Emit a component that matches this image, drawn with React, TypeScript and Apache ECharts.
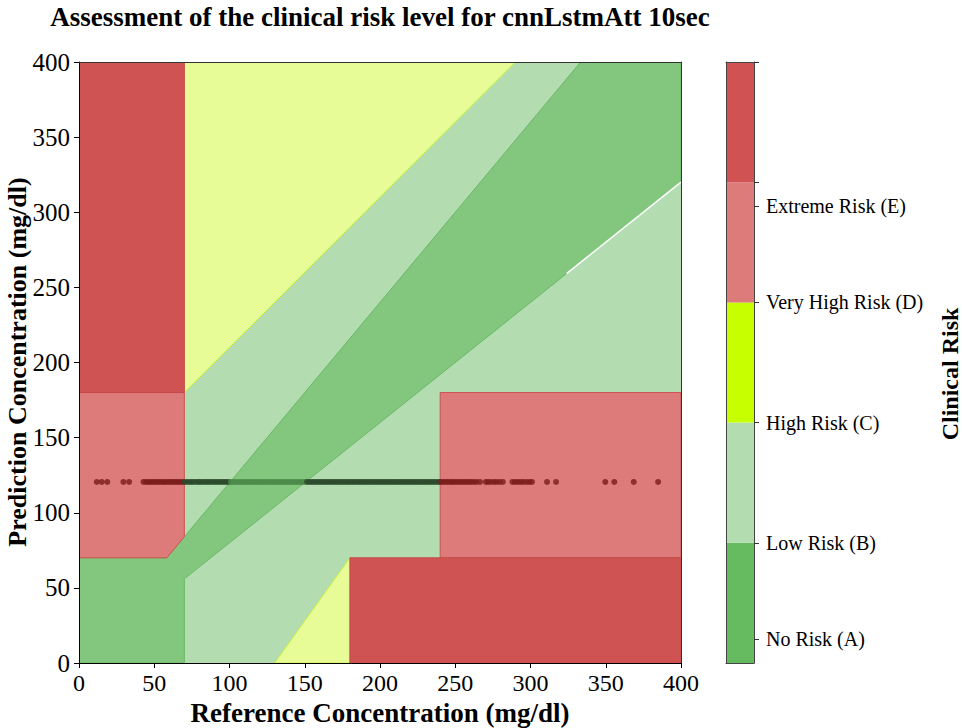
import React, { useEffect, useRef } from "react";
import * as echarts from "echarts";

const FONT = "'Liberation Serif', 'Times New Roman', serif";

const TITLE = "Assessment of the clinical risk level for cnnLstmAtt 10sec";
const X_NAME = "Reference Concentration (mg/dl)";
const Y_NAME = "Prediction Concentration (mg/dl)";
const CB_NAME = "Clinical Risk";

// Clarke-style zone boundaries (reference, prediction)
const zoneB = [[0, 0], [400, 0], [400, 400], [0, 400]];
const zoneA = [[0, 0], [0, 70], [58.33, 70], [70, 84], [333.33, 400], [400, 400], [400, 320], [70, 56], [70, 0]];
const zoneCUpper = [[70, 180], [70, 400], [290, 400]];
const zoneCLower = [[130, 0], [180, 0], [180, 70]];
const zoneDLeft = [[0, 70], [58.33, 70], [70, 84], [70, 180], [0, 180]];
const zoneDRight = [[240, 70], [400, 70], [400, 180], [240, 180]];
const zoneEUpper = [[0, 180], [70, 180], [70, 400], [0, 400]];
const zoneELower = [[180, 0], [400, 0], [400, 70], [180, 70]];
const whiteEdge = [[324, 259.2], [400, 320]];

// reference values of the points (all predictions sit at one level)
const refValues = [
  11.8, 15.1, 18.8, 29.5, 33.3,
  42.8, 44.5, 46.0, 47.3, 48.9, 50.2, 51.8, 53.0, 54.6, 56.1, 57.4, 59.0, 60.3, 61.8, 63.2, 64.5, 66.0, 67.4, 68.8,
  70.3, 71.8, 73.4, 74.7, 76.2, 77.9, 79.3, 80.6, 82.2, 83.7, 85.1, 86.4, 88.0, 89.5, 90.9, 92.3, 93.8, 95.2, 96.6, 98.1,
  99.5, 101.0, 102.4, 103.9, 105.3, 106.8, 108.2, 109.6, 111.1, 112.5, 114.0, 115.4, 116.9, 118.3, 119.7, 121.2, 122.6,
  124.1, 125.5, 127.0, 128.4, 129.8, 131.3, 132.7, 134.2, 135.6, 137.1, 138.5, 139.9, 141.4, 142.8, 144.3, 145.7, 147.2,
  148.6, 150.0, 151.5, 152.9, 154.4, 155.8, 157.3, 158.7, 160.1, 161.6, 163.0, 164.5, 165.9, 167.4, 168.8, 170.2, 171.7,
  173.1, 174.6, 176.0, 177.5, 178.9, 180.3, 181.8, 183.2, 184.7, 186.1, 187.6, 189.0, 190.4, 191.9, 193.3, 194.8, 196.2,
  197.7, 199.1, 200.5, 202.0, 203.4, 204.9, 206.3, 207.8, 209.2, 210.6, 212.1, 213.5, 215.0, 216.4, 217.9, 219.3, 220.7,
  222.2, 223.6, 225.1, 226.5, 228.0, 229.4, 230.8, 232.3, 233.7, 235.2, 236.6, 238.1, 239.5,
  240.6, 242.1, 243.8, 245.2, 246.9, 248.3, 249.7, 251.4, 252.8, 254.5, 256.0, 257.6, 259.1, 260.7,
  262.5, 264.1, 266.4, 270.3, 271.8, 273.6, 275.7, 277.3, 279.4, 281.6,
  288.0, 289.7, 291.6, 293.5, 295.2, 297.4, 299.3, 301.0,
  311.0, 317.0, 349.7, 355.7, 368.6, 384.8,
];
const PRED_LEVEL = 120.5;

const riskLabels = ["No Risk (A)", "Low Risk (B)", "High Risk (C)", "Very High Risk (D)", "Extreme Risk (E)"];
const riskLabelPos = [0.2, 1, 2, 3, 3.8];
const riskTickPos = [0.2, 1, 2, 3, 3.8, 4, 5];
const riskBand = [1, 1, 1, 1, 1];
const riskBarColors = ["#66bb60", "#b3dcb0", "#c8ff00", "#dd7b7b", "#d05252"];

const zones = [
  { points: zoneB, fill: "#b3dcb1", stroke: "none" },
  { points: zoneA, fill: "#83c77f", stroke: "#6ab866" },
  { points: zoneCUpper, fill: "#e7fc97", stroke: "#c8f03c" },
  { points: zoneCLower, fill: "#e7fc97", stroke: "#c8f03c" },
  { points: zoneDLeft, fill: "#dd7b7b", stroke: "#cc5252" },
  { points: zoneDRight, fill: "#dd7b7b", stroke: "#cc5252" },
  { points: zoneEUpper, fill: "#d05353", stroke: "#c84a4a" },
  { points: zoneELower, fill: "#d05353", stroke: "#c84a4a" },
];

const pointColor = (x: number) => {
  if (x < 70 || x >= 240) return "#7a1c1c";
  if (x >= 100 && x <= 150) return "#4b8a48";
  return "#2a482a";
};

const axisTextBase = { fontFamily: FONT, color: "#000" };

export default function App() {
  const ref = useRef<HTMLDivElement>(null);
  useEffect(() => {
    const chart = echarts.init(ref.current!, null, { renderer: "svg" });
    const option: any = {
      animation: false,
      backgroundColor: "#fff",
      graphic: [
        {
          type: "text",
          x: 380,
          y: 3,
          style: {
            text: TITLE,
            textAlign: "center",
            textVerticalAlign: "top",
            fontFamily: FONT,
            fontWeight: "bold",
            fontSize: 27,
            fill: "#000",
          },
        },
        {
          type: "text",
          x: 17,
          y: 362,
          rotation: Math.PI / 2,
          style: {
            text: Y_NAME,
            textAlign: "center",
            textVerticalAlign: "middle",
            fontFamily: FONT,
            fontWeight: "bold",
            fontSize: 26,
            fill: "#000",
          },
        },
        {
          type: "text",
          x: 950,
          y: 374,
          rotation: Math.PI / 2,
          style: {
            text: CB_NAME,
            textAlign: "center",
            textVerticalAlign: "middle",
            fontFamily: FONT,
            fontWeight: "bold",
            fontSize: 24,
            fill: "#000",
          },
        },
      ],
      grid: [
        { left: 79, top: 62, width: 602, height: 601, outerBoundsMode: "none", containLabel: false },
        { left: 726, top: 62, width: 28, height: 601, outerBoundsMode: "none", containLabel: false },
      ],
      xAxis: [
        {
          type: "value",
          gridIndex: 0,
          min: 0,
          max: 400,
          interval: 50,
          z: 10,
          name: X_NAME,
          nameLocation: "middle",
          nameGap: 28,
          nameTextStyle: { ...axisTextBase, fontSize: 27, fontWeight: "bold" },
          axisLine: { show: true, lineStyle: { color: "#000", width: 1 } },
          axisTick: { show: true, length: 5, lineStyle: { color: "#000" } },
          axisLabel: { ...axisTextBase, fontSize: 24, margin: 8 },
          splitLine: { show: false },
        },
        {
          type: "category",
          gridIndex: 1,
          data: ["risk"],
          z: 10,
          axisLine: { show: true, lineStyle: { color: "#444" } },
          axisTick: { show: false },
          axisLabel: { show: false },
        },
        {
          type: "value",
          gridIndex: 0,
          min: 0,
          max: 400,
          position: "top",
          z: 10,
          axisLine: { show: true, onZero: false, lineStyle: { color: "#333", width: 1 } },
          axisTick: { show: false },
          axisLabel: { show: false },
          splitLine: { show: false },
        },
        {
          type: "category",
          gridIndex: 1,
          data: ["risk"],
          position: "top",
          z: 10,
          axisLine: { show: true, onZero: false, lineStyle: { color: "#444" } },
          axisTick: { show: false },
          axisLabel: { show: false },
        },
      ],
      yAxis: [
        {
          type: "value",
          gridIndex: 0,
          min: 0,
          max: 400,
          interval: 50,
          z: 10,
          axisLine: { show: true, lineStyle: { color: "#000", width: 1 } },
          axisTick: { show: true, length: 5, lineStyle: { color: "#000" } },
          axisLabel: { ...axisTextBase, fontSize: 25, margin: 9 },
          splitLine: { show: false },
        },
        {
          type: "value",
          gridIndex: 1,
          min: 0,
          max: 5,
          position: "right",
          z: 10,
          axisLine: { show: true, lineStyle: { color: "#444" } },
          axisTick: { show: true, length: 5, customValues: riskTickPos, lineStyle: { color: "#333" } },
          axisLabel: {
            ...axisTextBase,
            fontSize: 20,
            margin: 12,
            customValues: riskLabelPos,
            formatter: (v: number) => {
              const i = riskLabelPos.indexOf(v);
              return i >= 0 ? riskLabels[i] : "";
            },
          },
          splitLine: { show: false },
        },
        {
          type: "value",
          gridIndex: 0,
          min: 0,
          max: 400,
          position: "right",
          z: 10,
          axisLine: { show: true, onZero: false, lineStyle: { color: "#333", width: 1 } },
          axisTick: { show: false },
          axisLabel: { show: false },
          splitLine: { show: false },
        },
        {
          type: "value",
          gridIndex: 1,
          min: 0,
          max: 5,
          position: "left",
          z: 10,
          axisLine: { show: true, onZero: false, lineStyle: { color: "#444" } },
          axisTick: { show: false },
          axisLabel: { show: false },
          splitLine: { show: false },
        },
      ],
      series: [
        {
          type: "custom",
          xAxisIndex: 0,
          yAxisIndex: 0,
          clip: true,
          silent: true,
          z: 1,
          data: zones.map((_, i) => [0, 0, i]),
          renderItem: (params: any, api: any) => {
            const zn = zones[params.dataIndex];
            return {
              type: "polygon",
              shape: { points: zn.points.map((p) => api.coord(p)) },
              style: { fill: zn.fill, stroke: zn.stroke, lineWidth: 1 },
            };
          },
        },
        {
          type: "line",
          xAxisIndex: 0,
          yAxisIndex: 0,
          data: whiteEdge,
          symbol: "none",
          silent: true,
          z: 2,
          lineStyle: { color: "#ffffff", width: 1.5 },
        },
        {
          type: "scatter",
          xAxisIndex: 0,
          yAxisIndex: 0,
          z: 3,
          symbolSize: 6,
          data: refValues.map((x) => [x, PRED_LEVEL]),
          itemStyle: {
            color: (p: any) => pointColor(p.value[0]),
          },
        },
        ...riskBand.map((v, i) => ({
          type: "bar",
          xAxisIndex: 1,
          yAxisIndex: 1,
          stack: "cb",
          barWidth: "100%",
          silent: true,
          data: [v],
          itemStyle: { color: riskBarColors[i] },
        })),
      ],
    };
    chart.setOption(option);
    return () => chart.dispose();
  }, []);
  return <div ref={ref} style={{ position: "absolute", left: 0, top: 0, width: 962, height: 728 }} />;
}
